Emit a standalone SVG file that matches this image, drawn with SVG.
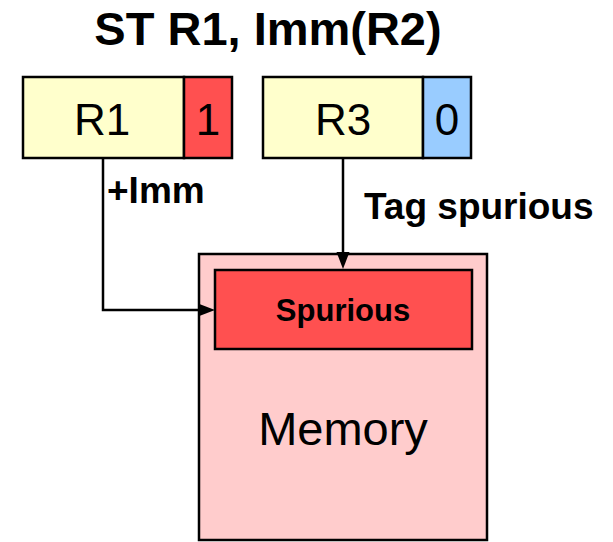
<svg xmlns="http://www.w3.org/2000/svg" width="613" height="542" viewBox="0 0 613 542">
<style>
text{font-family:"Liberation Sans",Arial,sans-serif;fill:#000}
.b{font-weight:bold}
.box{stroke:#000;stroke-width:2.5}
.ln{fill:none;stroke:#000;stroke-width:2.5}
.head{fill:#000;stroke:none}
</style>
<rect width="613" height="542" fill="#fff"/>
<text x="268" y="45" font-size="47" class="b" text-anchor="middle">ST R1, Imm(R2)</text>
<g id="memory">
<rect class="box" x="199" y="254" width="288" height="286" fill="#FFCCCC"/>
<text x="343" y="445" font-size="47" text-anchor="middle">Memory</text>
</g>
<g id="spurious">
<rect class="box" x="215" y="270" width="257" height="79" fill="#FF5050"/>
<text x="343" y="321" font-size="31" class="b" text-anchor="middle">Spurious</text>
</g>
<g id="r1">
<rect class="box" x="23" y="77" width="161" height="81" fill="#FFFFCC"/>
<rect class="box" x="184" y="77" width="48" height="81" fill="#FF5050"/>
<text x="102" y="135" font-size="44" text-anchor="middle">R1</text>
<text x="208" y="135" font-size="44" text-anchor="middle">1</text>
</g>
<g id="r3">
<rect class="box" x="263" y="77" width="160" height="81" fill="#FFFFCC"/>
<rect class="box" x="423" y="77" width="48" height="81" fill="#99CCFF"/>
<text x="343" y="135" font-size="44" text-anchor="middle">R3</text>
<text x="447" y="135" font-size="44" text-anchor="middle">0</text>
</g>
<g id="connectors">
<path class="ln" d="M103,158 V310 H200"/>
<polygon class="head" points="198,303.5 215,310 198,316.5"/>
<path class="ln" d="M343,158 V254"/>
<polygon class="head" points="336.5,252 349.5,252 343,269"/>
<text x="107" y="203" font-size="37" class="b">+Imm</text>
<text x="364" y="219" font-size="37" class="b">Tag spurious</text>
</g>
</svg>
